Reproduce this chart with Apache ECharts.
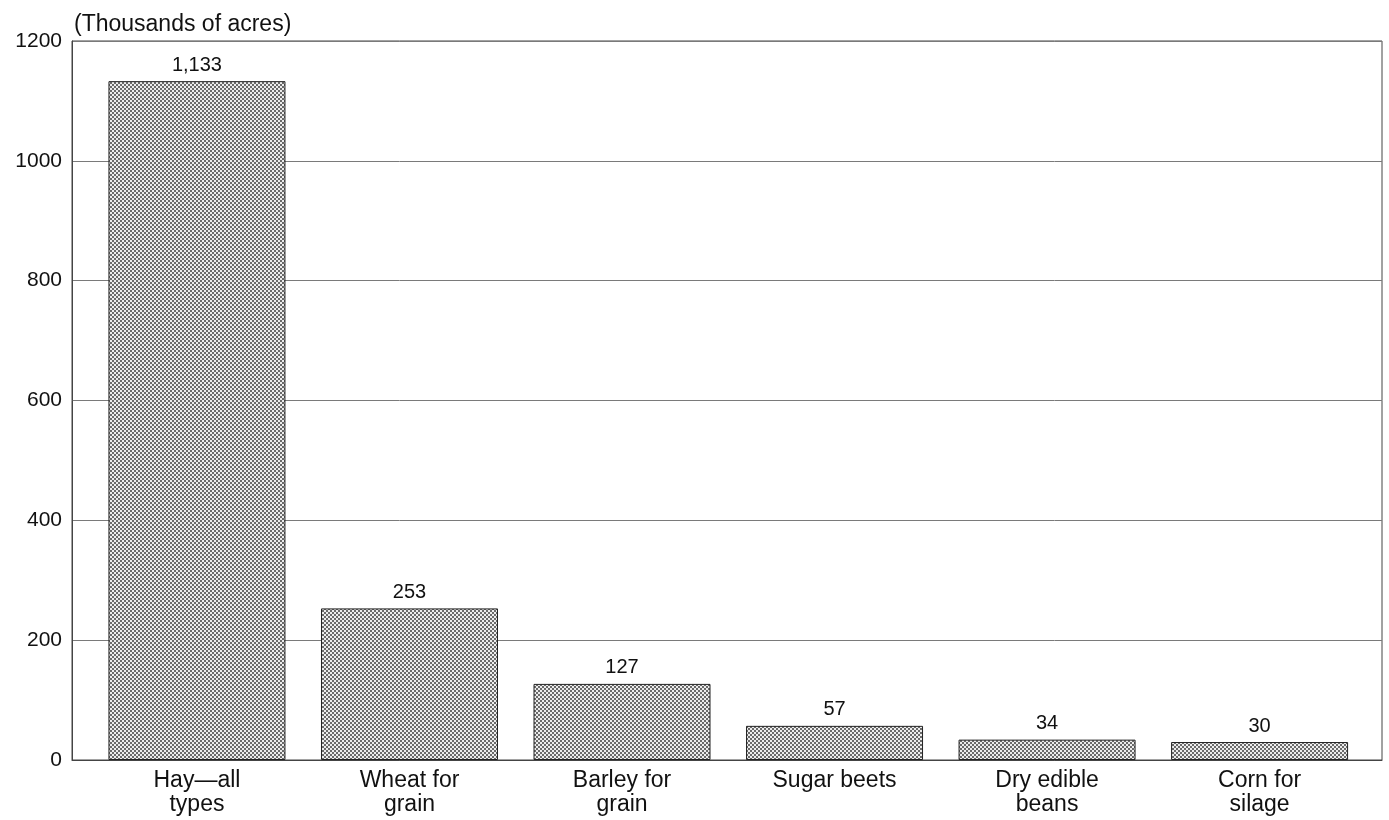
<!DOCTYPE html>
<html>
<head>
<meta charset="utf-8">
<script src="https://cdn.jsdelivr.net/npm/echarts@6/dist/echarts.min.js"></script>
<style>
html,body{margin:0;padding:0;background:#fff;}
#chart{width:1389px;height:820px;}
</style>
</head>
<body>
<div id="chart"></div>
<script>
const categories = ["Hay\u2014all\ntypes", "Wheat for\ngrain", "Barley for\ngrain", "Sugar beets", "Dry edible\nbeans", "Corn for\nsilage"];
const values = [1133, 253, 127, 57, 34, 30];
const unitLabel = "(Thousands of acres)";

// checker pattern for bar fill
const pat = document.createElement('canvas');
pat.width = 4; pat.height = 4;
const pctx = pat.getContext('2d');
pctx.fillStyle = '#ececec'; pctx.fillRect(0,0,4,4);
pctx.fillStyle = '#6a6a6a';
pctx.fillRect(0,0,2,2); pctx.fillRect(2,2,2,2);

const chart = echarts.init(document.getElementById('chart'), null, {renderer:'canvas'});
const font = '"Liberation Sans", Arial, Helvetica, sans-serif';
chart.setOption({
  animation: false,
  backgroundColor: '#fff',
  title: {
    text: unitLabel, left: 69, top: 8,
    textStyle: {fontFamily: font, fontSize: 23, fontWeight: 'normal', color: '#111'}
  },
  grid: {left: 72, right: 7, top: 41, bottom: 60, show: true, borderColor: '#444', borderWidth: 1},
  xAxis: {
    type: 'value', min: -0.588, max: 5.576,
    axisLine: {show: true, onZero: false, lineStyle: {color: '#444', width: 1}},
    axisTick: {show: false},
    splitLine: {show: false},
    axisLabel: {
      customValues: categories.map((c, i) => i),
      formatter: v => categories[Math.round(v)] || '',
      fontFamily: font, fontSize: 23, color: '#111', lineHeight: 24, margin: 9,
      showMinLabel: true, showMaxLabel: true
    }
  },
  yAxis: {
    type: 'value', min: 0, max: 1200, interval: 200,
    axisLine: {show: true, onZero: false, lineStyle: {color: '#444', width: 1}},
    axisTick: {show: false},
    splitLine: {show: true, lineStyle: {color: '#7a7a7a', width: 1}},
    axisLabel: {fontFamily: font, fontSize: 21, color: '#111', margin: 10, formatter: v => String(v)}
  },
  series: [{
    type: 'bar',
    barWidth: 177,
    data: values.map((v, i) => [i, v]),
    itemStyle: {color: {image: pat, repeat: 'repeat'}, borderColor: '#222', borderWidth: 1},
    label: {
      show: true, position: 'top', distance: 6,
      formatter: p => p.value[1].toLocaleString('en-US'),
      fontFamily: font, fontSize: 20, color: '#111'
    }
  }]
});
</script>
</body>
</html>
